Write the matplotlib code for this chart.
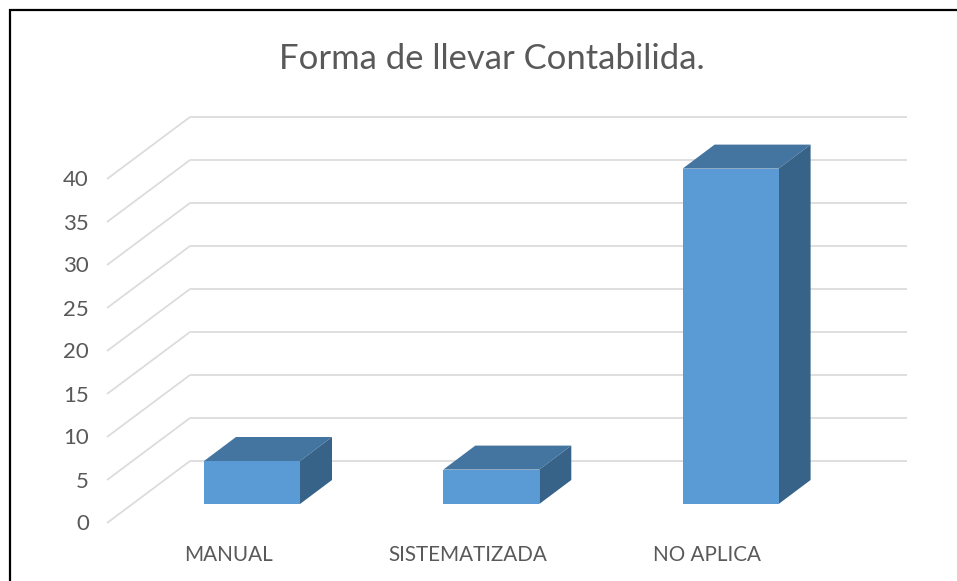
import matplotlib
matplotlib.use('Agg')
import matplotlib.pyplot as plt
from matplotlib.patches import Polygon, Rectangle
import numpy as np

# datos
categorias = ['MANUAL', 'SISTEMATIZADA', 'NO APLICA']
valores = [5, 4, 39]
ticks_y = [0, 5, 10, 15, 20, 25, 30, 35, 40]
titulo = 'Forma de llevar Contabilida.'

W, H = 957, 581
GRIS = '#595959'
plt.rcParams['font.family'] = ['Lato', 'DejaVu Sans']

# escala en pixeles de la imagen
PX_X = 239.3   # pixeles por categoria
PX_Y = 8.6     # pixeles por unidad
X0 = 252       # centro primera barra
Y0 = 504       # base de las barras
izq, der, arriba, abajo = 107, 907, 117, 523

fig = plt.figure(figsize=(W / 100, H / 100), dpi=100)
ax = fig.add_axes([izq / W, 1 - abajo / H, (der - izq) / W, (abajo - arriba) / H])
ax.set_xlim((izq - X0) / PX_X, (der - X0) / PX_X)
ax.set_ylim((Y0 - abajo) / PX_Y, (Y0 - arriba) / PX_Y)
for s in ax.spines.values():
    s.set_visible(False)

# profundidad en unidades de datos
dx_pared = 83 / PX_X
dy_pared = 62 / PX_Y
y_frente = 19 / PX_Y
dx_barra = 32 / PX_X
dy_barra = 24 / PX_Y
ancho = 96 / PX_X

x_pared = ax.get_xlim()[0] + dx_pared
x_fin = ax.get_xlim()[1]
for v in ticks_y:
    ax.plot([ax.get_xlim()[0], x_pared], [v - y_frente, v - y_frente + dy_pared],
            color='#dcdcdc', lw=1.3, clip_on=False, solid_capstyle='butt')
    ax.plot([x_pared, x_fin], [v - y_frente + dy_pared] * 2,
            color='#dcdcdc', lw=1.3, clip_on=False, solid_capstyle='butt')

for i, v in enumerate(valores):
    x1 = i - ancho / 2
    x2 = i + ancho / 2
    ax.add_patch(Polygon([(x1, v), (x2, v), (x2 + dx_barra, v + dy_barra), (x1 + dx_barra, v + dy_barra)],
                         color='#4474a0', lw=0, zorder=3, clip_on=False))
    ax.add_patch(Polygon([(x2, 0), (x2 + dx_barra, dy_barra), (x2 + dx_barra, v + dy_barra), (x2, v)],
                         color='#386389', lw=0, zorder=3, clip_on=False))
    ax.add_patch(Rectangle((x1, 0), ancho, v, color='#5b9bd5', lw=0, zorder=4, clip_on=False))

# etiquetas corridas respecto a las barras, como en el original
ax.set_xticks(np.arange(len(categorias)) - 23.5 / PX_X, categorias)
ax.set_yticks(np.array(ticks_y) - 18.5 / PX_Y, ticks_y)
ax.tick_params(axis='x', length=0, pad=15.8, labelsize=14.9, labelcolor=GRIS)
ax.tick_params(axis='y', length=0, pad=13, labelsize=16, labelcolor=GRIS)

fig.text(491.5 / W, 1 - 59 / H, titulo, ha='center', va='center', fontsize=24.9, color=GRIS)

# marco negro, sin lado derecho
for x0, y0, x1, y1 in [(9, 10, 957, 10), (10, 9, 10, 581)]:
    fig.add_artist(plt.Line2D([x0 / W, x1 / W], [1 - y0 / H, 1 - y1 / H], color='black', lw=1.6,
                              solid_capstyle='butt'))

fig.savefig('out.png', dpi=100)
